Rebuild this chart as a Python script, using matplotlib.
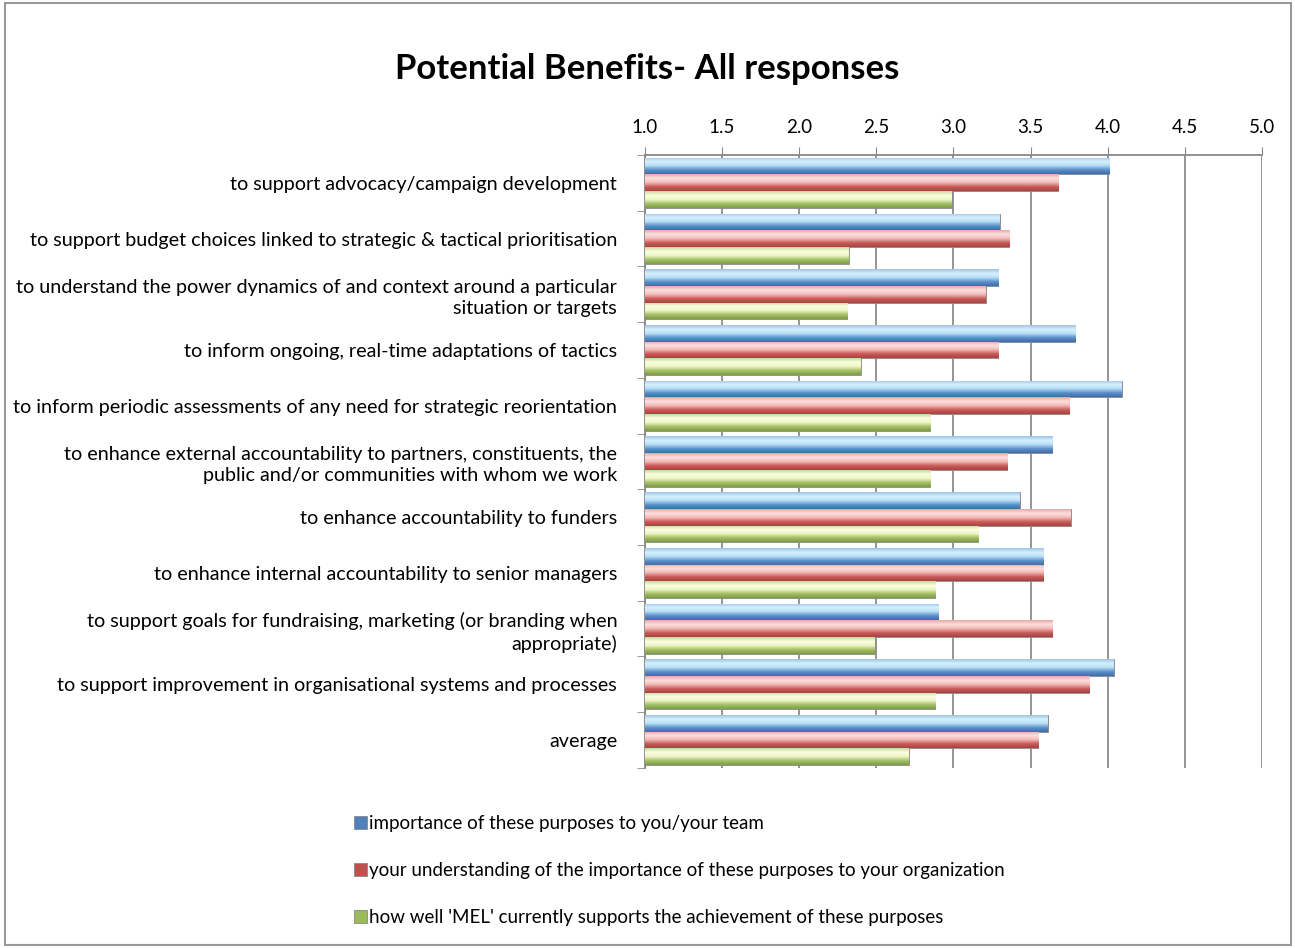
import numpy as np
import matplotlib.pyplot as plt
from matplotlib.colors import LinearSegmentedColormap
from matplotlib.patches import Rectangle

plt.rcParams['font.family'] = ['Lato', 'DejaVu Sans']

categories = [
    "to support advocacy/campaign development",
    "to support budget choices linked to strategic & tactical prioritisation",
    "to understand the power dynamics of and context around a particular\nsituation or targets",
    "to inform ongoing, real-time adaptations of tactics",
    "to inform periodic assessments of any need for strategic reorientation",
    "to enhance external accountability to partners, constituents, the\npublic and/or communities with whom we work",
    "to enhance accountability to funders",
    "to enhance internal accountability to senior managers",
    "to support goals for fundraising, marketing (or branding when\nappropriate)",
    "to support improvement in organisational systems and processes",
    "average",
]

importance_team = [4.01, 3.30, 3.29, 3.79, 4.09, 3.64, 3.43, 3.58, 2.90, 4.04, 3.61]
importance_org = [3.68, 3.36, 3.21, 3.29, 3.75, 3.35, 3.76, 3.58, 3.64, 3.88, 3.55]
mel_support = [2.99, 2.32, 2.31, 2.40, 2.85, 2.85, 3.16, 2.88, 2.49, 2.88, 2.71]

series_names = [
    "importance of these purposes to you/your team",
    "your understanding of the importance of these purposes to your organization",
    "how well 'MEL' currently supports the achievement of these purposes",
]

# light top edge -> base colour -> darker bottom edge, for the bevelled look
palettes = [
    ["#9fc3e6", "#d6f1fd", "#b8def5", "#5d8fca", "#3f6fa8"],
    ["#e4a9a8", "#fde0de", "#f2b9b7", "#c85d5a", "#a84340"],
    ["#c9d99c", "#fcfde0", "#eef5c6", "#a3c165", "#7f9c46"],
]
base_colors = ["#4f81bd", "#c0504d", "#9bbb59"]

fig = plt.figure(figsize=(12.95, 9.48), dpi=100)
ax = fig.add_axes([0.498, 0.19, 0.4765, 0.6465])

n = len(categories)
y = np.arange(n)
h = 0.3
offsets = [-h, 0, h]
baseline = 1.0
grad = np.linspace(0, 1, 64).reshape(-1, 1)

for values, off, pal, col, name in zip(
        [importance_team, importance_org, mel_support], offsets, palettes, base_colors, series_names):
    vals = np.array(values)
    bars = ax.barh(y + off, vals - baseline, left=baseline, height=h,
                   color=col, edgecolor="#8a8a8a", linewidth=0.6, label=name, zorder=3)
    cmap = LinearSegmentedColormap.from_list("bevel", pal)
    for b in bars:
        x0, y0 = b.get_x(), b.get_y()
        x1, y1 = x0 + b.get_width(), y0 + b.get_height()
        im = ax.imshow(grad, cmap=cmap, extent=[x0, x1, y1, y0], aspect="auto",
                       origin="upper", zorder=3.5)
        im.set_clip_path(b)

ax.set_xlim(1.0, 5.0)
ax.set_ylim(n - 0.5, -0.5)
ax.set_xticks(np.arange(1.0, 5.01, 0.5))
ax.set_xticklabels([f"{v:.1f}" for v in np.arange(1.0, 5.01, 0.5)], fontsize=13.5)
ax.xaxis.tick_top()
ax.tick_params(axis="x", direction="out", length=6, color="#888888", pad=8)
ax.grid(axis="x", color="#8c8c8c", linewidth=1.3, zorder=0)

ax.set_yticks(y)
ax.set_yticklabels(categories, fontsize=14.2, linespacing=1.3)
ax.tick_params(axis="y", length=0, pad=20)
ax.set_yticks(np.arange(-0.5, n, 1.0), minor=True)
ax.tick_params(axis="y", which="minor", length=6, color="#888888")

for side in ["bottom", "right"]:
    ax.spines[side].set_visible(False)
for side in ["left", "top"]:
    ax.spines[side].set_color("#888888")
    ax.spines[side].set_linewidth(1.3)

fig.text(0.5, 0.927, "Potential Benefits- All responses", ha="center", va="center",
         fontsize=25, fontweight="bold")

handles, labels = ax.get_legend_handles_labels()
leg = fig.legend(handles, labels, loc="upper left", bbox_to_anchor=(0.26, 0.158),
                 frameon=False, fontsize=13.5, handlelength=0.7, handleheight=0.7,
                 handletextpad=0.1, labelspacing=1.6)

fig.patches.append(Rectangle((0.004, 0.003), 0.993, 0.994, transform=fig.transFigure,
                             fill=False, edgecolor="#999999", linewidth=1.5))

fig.savefig("out.png", dpi=100)
